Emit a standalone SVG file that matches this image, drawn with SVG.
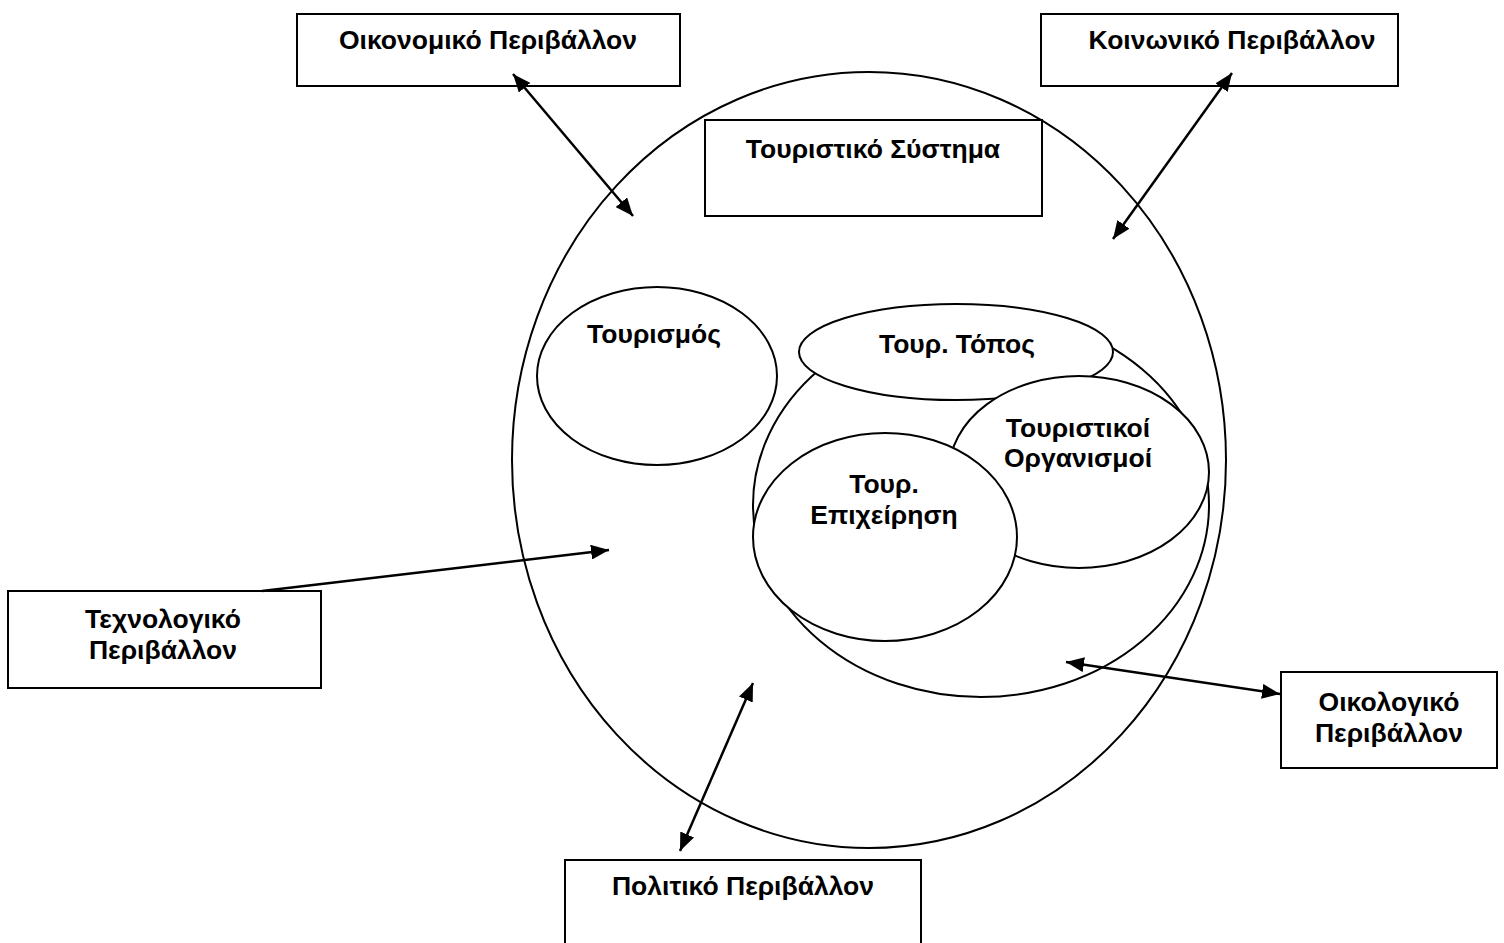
<svg xmlns="http://www.w3.org/2000/svg" width="1504" height="943" viewBox="0 0 1504 943">
<style>
.box{fill:#fff;stroke:#000;stroke-width:2}
.ell{fill:#fff;stroke:#000;stroke-width:2}
.t{font-family:"Liberation Sans",Arial,sans-serif;font-weight:bold;font-size:26.5px;fill:#000;text-anchor:middle}
.c{fill:none;stroke:#000;stroke-width:2.5}
</style>
<defs>
<marker id="ah" markerUnits="userSpaceOnUse" markerWidth="19" markerHeight="15" refX="18" refY="7.5" orient="auto-start-reverse" viewBox="0 0 19 15">
<path d="M0,0 L18,7.5 L0,15 z" fill="#000"/>
</marker>
</defs>
<rect x="0" y="0" width="1504" height="943" fill="#fff"/>
<g id="system">
<ellipse class="ell" cx="869" cy="460" rx="357" ry="388"/>
</g>
<g id="sistima-box">
<rect class="box" x="705" y="120" width="337" height="96"/>
<text class="t" x="873" y="158">Τουριστικό Σύστημα</text>
</g>
<g id="tourismos">
<ellipse class="ell" cx="657" cy="376" rx="120" ry="89"/>
<text class="t" x="654" y="343">Τουρισμός</text>
</g>
<g id="container">
<ellipse class="ell" cx="981" cy="505" rx="228" ry="192"/>
</g>
<g id="topos">
<ellipse class="ell" cx="956" cy="352" rx="157" ry="48"/>
<text class="t" x="957" y="353">Τουρ. Τόπος</text>
</g>
<g id="organismoi">
<ellipse class="ell" cx="1079" cy="472" rx="130" ry="96"/>
<text class="t" x="1078" y="437">Τουριστικοί</text>
<text class="t" x="1078" y="467">Οργανισμοί</text>
</g>
<g id="epixeirisi">
<ellipse class="ell" cx="885" cy="537" rx="132" ry="104"/>
<text class="t" x="884" y="493">Τουρ.</text>
<text class="t" x="884" y="524">Επιχείρηση</text>
</g>
<g id="oikonomiko">
<rect class="box" x="297" y="14" width="383" height="72"/>
<text class="t" x="488" y="49">Οικονομικό Περιβάλλον</text>
</g>
<g id="koinoniko">
<rect class="box" x="1041" y="14" width="357" height="72"/>
<text class="t" x="1232" y="49">Κοινωνικό Περιβάλλον</text>
</g>
<g id="texnologiko">
<rect class="box" x="8" y="591" width="313" height="97"/>
<text class="t" x="163" y="628">Τεχνολογικό</text>
<text class="t" x="163" y="659">Περιβάλλον</text>
</g>
<g id="oikologiko">
<rect class="box" x="1281" y="672" width="216" height="96"/>
<text class="t" x="1389" y="711">Οικολογικό</text>
<text class="t" x="1389" y="742">Περιβάλλον</text>
</g>
<g id="politiko">
<rect class="box" x="565" y="860" width="356" height="100"/>
<text class="t" x="743" y="895">Πολιτικό Περιβάλλον</text>
</g>
<g id="connectors">
<line class="c" x1="513" y1="74" x2="633" y2="216" marker-start="url(#ah)" marker-end="url(#ah)"/>
<line class="c" x1="1232" y1="73" x2="1113" y2="239" marker-start="url(#ah)" marker-end="url(#ah)"/>
<line class="c" x1="262" y1="591" x2="609" y2="550" marker-end="url(#ah)"/>
<line class="c" x1="1066" y1="662" x2="1280" y2="694" marker-start="url(#ah)" marker-end="url(#ah)"/>
<line class="c" x1="753" y1="683" x2="680" y2="851" marker-start="url(#ah)" marker-end="url(#ah)"/>
</g>
</svg>
